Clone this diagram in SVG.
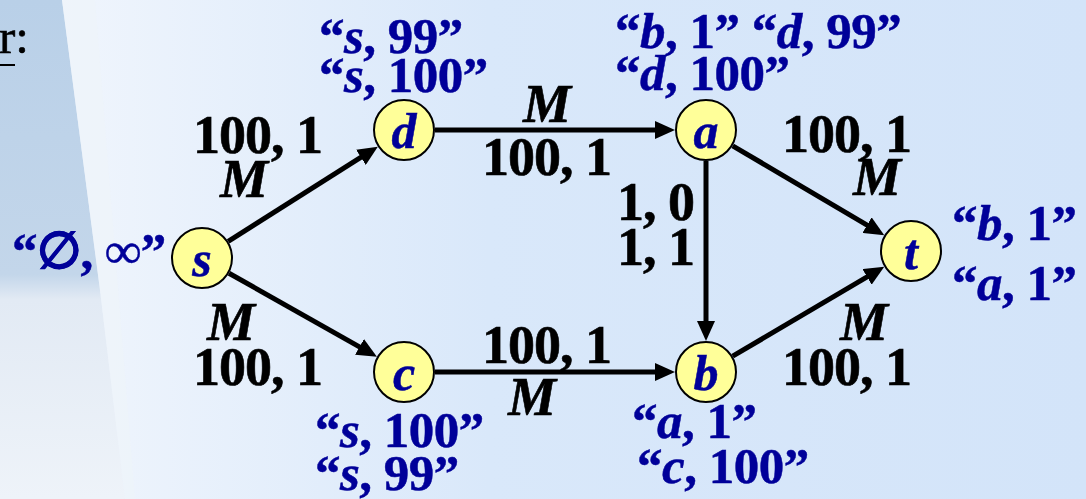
<svg xmlns="http://www.w3.org/2000/svg" width="1086" height="499" viewBox="0 0 1086 499">
<defs>
<linearGradient id="bg" x1="0" y1="0" x2="1" y2="0">
<stop offset="0" stop-color="#f3f7fd"/>
<stop offset="0.45" stop-color="#d9e8fa"/>
<stop offset="1" stop-color="#d3e4f9"/>
</linearGradient>
<linearGradient id="col" x1="0" y1="0" x2="0" y2="1">
<stop offset="0" stop-color="#b9d0e8"/>
<stop offset="0.55" stop-color="#c3d6ea"/>
<stop offset="0.6" stop-color="#e2eaf4"/>
<stop offset="1" stop-color="#eef3f9"/>
</linearGradient>
<marker id="arr" markerUnits="userSpaceOnUse" viewBox="0 0 20 18" markerWidth="20" markerHeight="18" refX="4" refY="9" orient="auto">
<path d="M0,0 L20,9 L0,18 z" fill="#000"/>
</marker>
<style>
.e{stroke:#000;stroke-width:5;fill:none;marker-end:url(#arr)}
.n{fill:#ffff99;stroke:#000;stroke-width:2}
.nl{font-family:"Liberation Serif","Times New Roman",serif;font-weight:bold;font-style:italic;font-size:50px;fill:#000099;stroke:#000099;stroke-width:0.5;text-anchor:middle}
.k{font-family:"Liberation Serif","Times New Roman",serif;font-weight:bold;font-size:54px;letter-spacing:-1px;fill:#000;stroke:#000;stroke-width:0.6}
.b{font-family:"Liberation Serif","Times New Roman",serif;font-weight:bold;font-size:51px;letter-spacing:-0.5px;fill:#000099;stroke:#000099;stroke-width:0.5}
.i{font-style:italic}
</style>
</defs>
<rect width="1086" height="499" fill="url(#bg)"/>
<polygon points="0,0 62,0 100,290 125,499 0,499" fill="url(#col)"/>
<polygon points="62,0 95,0 135,499 125,499 100,290" fill="#eef3fa" opacity="0.7"/>
<g id="title">
<text x="-1" y="53" font-family="Liberation Serif, serif" font-size="49" fill="#000" stroke="#000" stroke-width="0.6">r:</text>
<line x1="0" y1="65" x2="15" y2="65" stroke="#000" stroke-width="2"/>
</g>
<g id="connectors">
<line class="e" x1="228.2" y1="241.4" x2="364.3" y2="155.2"/>
<line class="e" x1="229" y1="273.2" x2="363" y2="348.9"/>
<line class="e" x1="435" y1="130" x2="659" y2="130"/>
<line class="e" x1="435" y1="372" x2="659" y2="372"/>
<line class="e" x1="706" y1="161" x2="706" y2="325"/>
<line class="e" x1="732.7" y1="145.8" x2="870.5" y2="227.1"/>
<line class="e" x1="732.7" y1="356.2" x2="870.5" y2="274.9"/>
<text class="k" x="193" y="153">100, 1</text>
<text class="k i" x="220" y="197">M</text>
<text class="k i" x="523" y="122">M</text>
<text class="k" x="482" y="175">100, 1</text>
<text class="k" x="782" y="152">100, 1</text>
<text class="k i" x="853" y="195">M</text>
<text class="k" x="617" y="220">1, 0</text>
<text class="k" x="617" y="265">1, 1</text>
<text class="k i" x="207" y="340">M</text>
<text class="k" x="193" y="385">100, 1</text>
<text class="k" x="482" y="363">100, 1</text>
<text class="k i" x="508" y="415">M</text>
<text class="k i" x="840" y="340">M</text>
<text class="k" x="782" y="385">100, 1</text>
</g>
<g id="node-s">
<circle class="n" cx="202" cy="258" r="30"/>
<text class="nl" x="202" y="276">s</text>
<text class="b" x="12" y="268">“∅, ∞”</text>
</g>
<g id="node-d">
<circle class="n" cx="404" cy="130" r="30"/>
<text class="nl" x="404" y="148">d</text>
<text class="b" x="319" y="53">“<tspan class="i">s</tspan>, 99”</text>
<text class="b" x="319" y="92">“<tspan class="i">s</tspan>, 100”</text>
</g>
<g id="node-a">
<circle class="n" cx="706" cy="130" r="30"/>
<text class="nl" x="706" y="148">a</text>
<text class="b" x="615" y="48">“<tspan class="i">b</tspan>, 1” “<tspan class="i">d</tspan>, 99”</text>
<text class="b" x="615" y="90">“<tspan class="i">d</tspan>, 100”</text>
</g>
<g id="node-c">
<circle class="n" cx="404" cy="372" r="30"/>
<text class="nl" x="404" y="390">c</text>
<text class="b" x="315" y="447">“<tspan class="i">s</tspan>, 100”</text>
<text class="b" x="315" y="490">“<tspan class="i">s</tspan>, 99”</text>
</g>
<g id="node-b">
<circle class="n" cx="706" cy="372" r="30"/>
<text class="nl" x="706" y="390">b</text>
<text class="b" x="632" y="438">“<tspan class="i">a</tspan>, 1”</text>
<text class="b" x="637" y="483">“<tspan class="i">c</tspan>, 100”</text>
</g>
<g id="node-t">
<circle class="n" cx="911" cy="251" r="30"/>
<text class="nl" x="911" y="269">t</text>
<text class="b" x="952" y="240">“<tspan class="i">b</tspan>, 1”</text>
<text class="b" x="952" y="300">“<tspan class="i">a</tspan>, 1”</text>
</g>
</svg>
